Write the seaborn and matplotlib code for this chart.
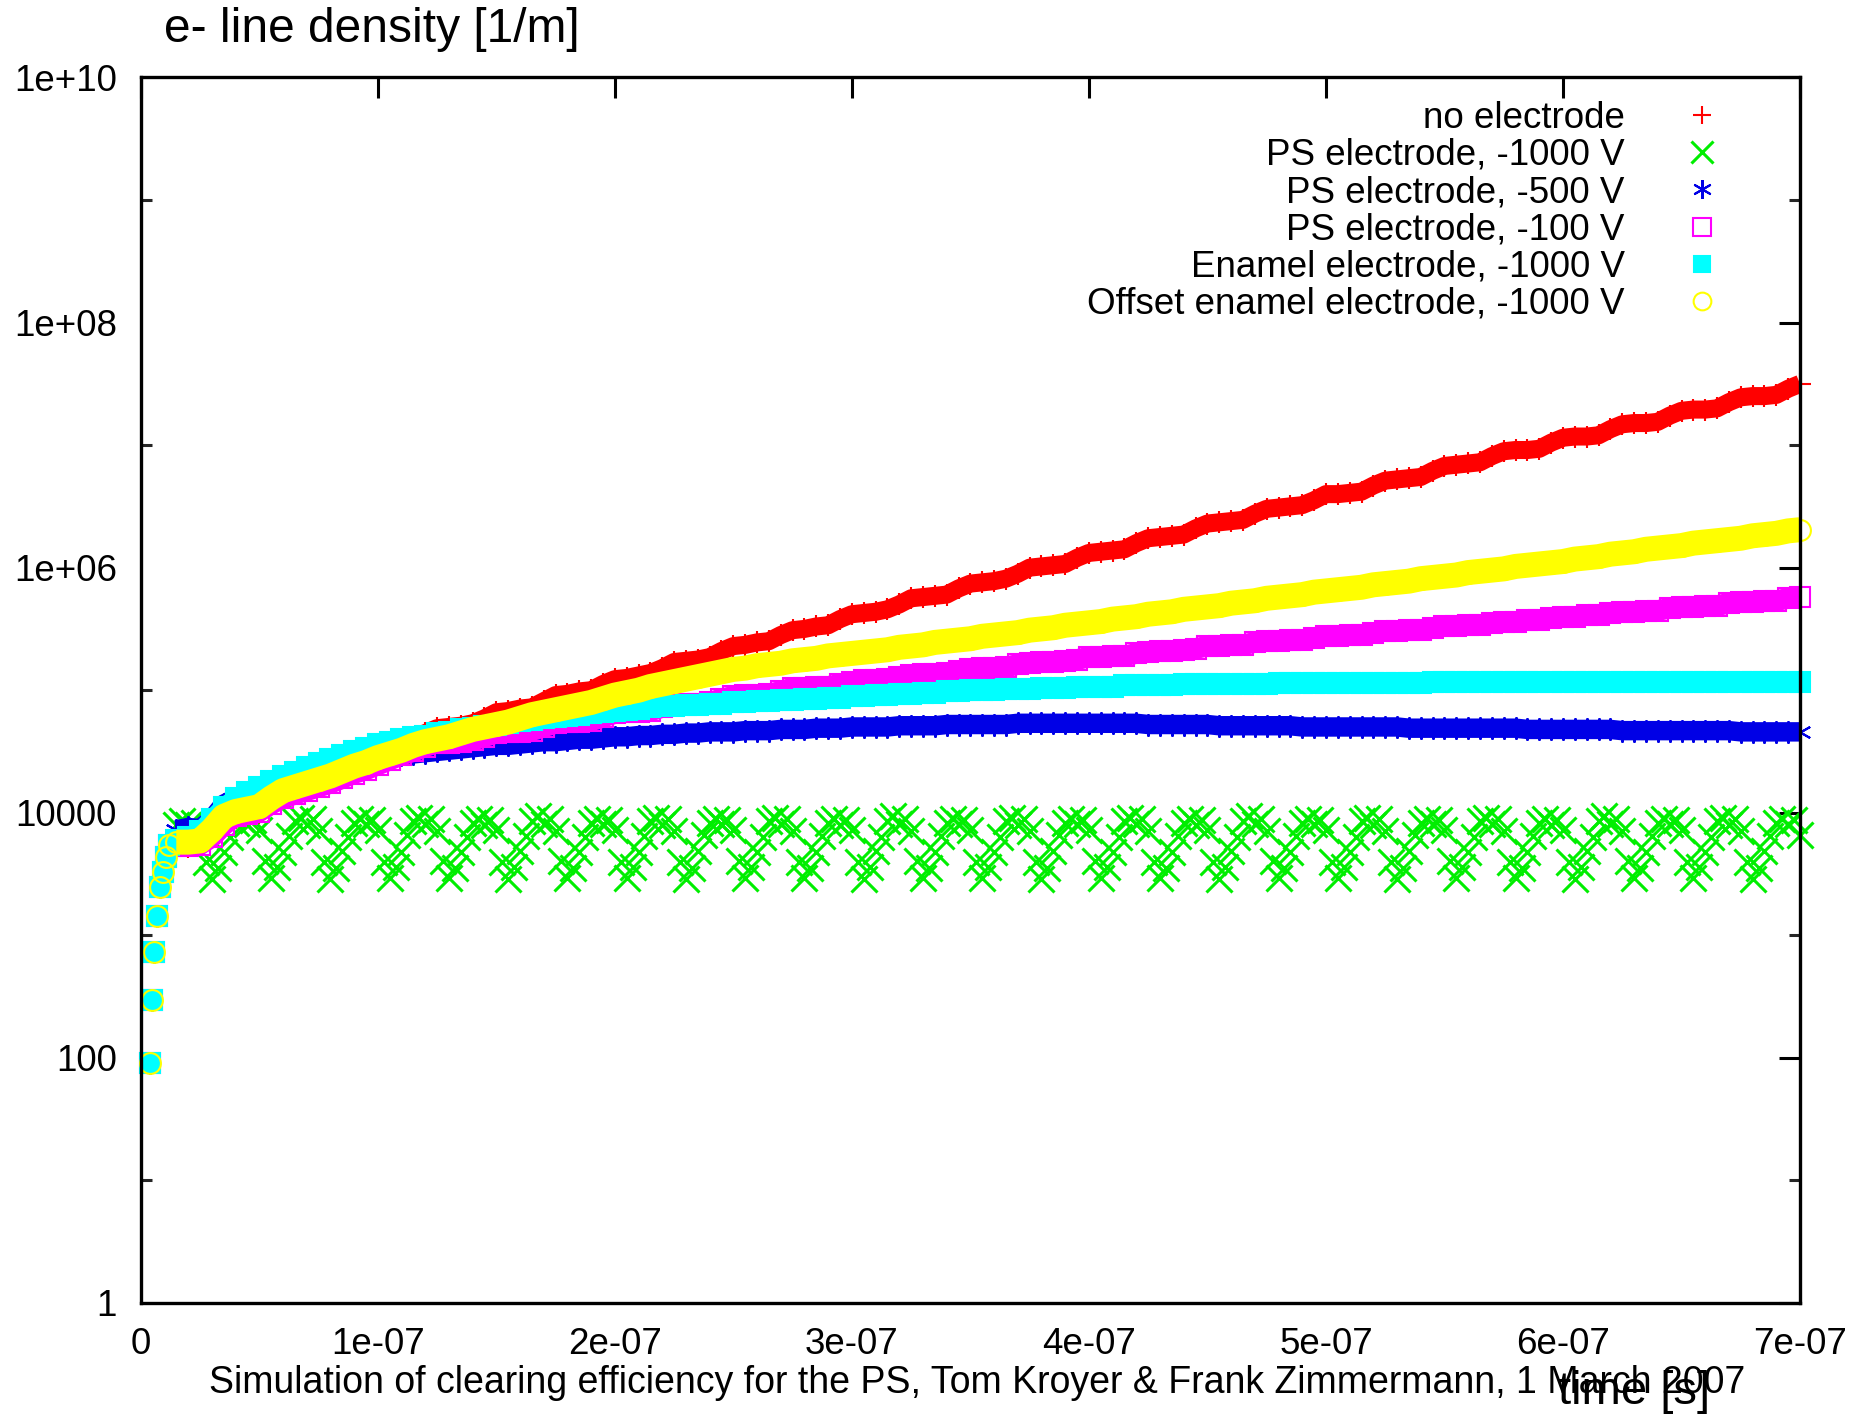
import numpy as np
import pandas as pd
import matplotlib
matplotlib.use("Agg")
import matplotlib.pyplot as plt
import seaborn as sns
from matplotlib.ticker import FixedLocator, NullFormatter

# time grid of the read-off points [ns]
t_ns = list(range(15, 705, 5))
# finer grid for the oscillating -1000 V PS electrode run [ns]
t_fine_ns = [15 + 2.5 * i for i in range(275)]

# first few points of the build-up (visible as enamel / offset enamel marks) [ns], log10 density
t_rise_ns = [3.9, 4.6, 5.6, 7.0, 8.1, 9.3, 10.6, 12.0]
lg_rise = [1.96, 2.47, 2.86, 3.16, 3.39, 3.52, 3.64, 3.74]

lg_no_electrode = [
    3.72, 3.72, 3.73, 3.80, 3.90, 3.96, 3.98, 4.00, 4.06, 4.12,
    4.16, 4.19, 4.22, 4.25, 4.29, 4.33, 4.36, 4.42, 4.46, 4.52,
    4.60, 4.65, 4.69, 4.70, 4.71, 4.73, 4.77, 4.82, 4.83, 4.85,
    4.86, 4.91, 4.96, 4.97, 4.99, 5.00, 5.05, 5.09, 5.10, 5.12,
    5.14, 5.18, 5.23, 5.24, 5.25, 5.27, 5.32, 5.36, 5.37, 5.39,
    5.40, 5.45, 5.49, 5.50, 5.52, 5.53, 5.58, 5.62, 5.63, 5.64,
    5.66, 5.70, 5.75, 5.76, 5.77, 5.78, 5.83, 5.87, 5.88, 5.89,
    5.91, 5.95, 6.00, 6.01, 6.02, 6.03, 6.08, 6.12, 6.13, 6.14,
    6.15, 6.20, 6.24, 6.25, 6.26, 6.27, 6.32, 6.36, 6.37, 6.38,
    6.39, 6.44, 6.48, 6.49, 6.50, 6.51, 6.55, 6.60, 6.60, 6.61,
    6.62, 6.67, 6.71, 6.72, 6.73, 6.74, 6.79, 6.83, 6.84, 6.85,
    6.86, 6.91, 6.95, 6.96, 6.96, 6.97, 7.02, 7.06, 7.07, 7.07,
    7.08, 7.13, 7.17, 7.18, 7.18, 7.19, 7.24, 7.28, 7.29, 7.29,
    7.30, 7.35, 7.39, 7.40, 7.40, 7.41, 7.46, 7.50]

# on t_fine_ns, one row per 25 ns bunch period
lg_ps_1000 = [
    3.90, 3.93, 3.90, 3.92, 3.84, 3.60, 3.46, 3.55, 3.68, 3.80,
    3.92, 3.95, 3.91, 3.94, 3.86, 3.61, 3.47, 3.56, 3.68, 3.81,
    3.93, 3.96, 3.90, 3.95, 3.85, 3.60, 3.46, 3.55, 3.69, 3.80,
    3.92, 3.95, 3.91, 3.94, 3.86, 3.60, 3.47, 3.56, 3.68, 3.82,
    3.93, 3.96, 3.91, 3.95, 3.85, 3.61, 3.47, 3.55, 3.68, 3.80,
    3.92, 3.95, 3.90, 3.94, 3.86, 3.60, 3.46, 3.56, 3.69, 3.81,
    3.93, 3.97, 3.91, 3.95, 3.85, 3.61, 3.47, 3.55, 3.68, 3.80,
    3.92, 3.95, 3.91, 3.94, 3.86, 3.60, 3.47, 3.56, 3.68, 3.81,
    3.93, 3.96, 3.90, 3.95, 3.85, 3.60, 3.46, 3.55, 3.69, 3.82,
    3.92, 3.95, 3.91, 3.94, 3.86, 3.61, 3.47, 3.56, 3.68, 3.80,
    3.93, 3.96, 3.91, 3.95, 3.85, 3.60, 3.47, 3.55, 3.68, 3.81,
    3.92, 3.95, 3.90, 3.94, 3.86, 3.60, 3.46, 3.56, 3.69, 3.80,
    3.93, 3.97, 3.91, 3.95, 3.85, 3.61, 3.47, 3.55, 3.68, 3.81,
    3.92, 3.95, 3.91, 3.94, 3.86, 3.60, 3.47, 3.56, 3.68, 3.80,
    3.93, 3.96, 3.90, 3.95, 3.85, 3.60, 3.46, 3.55, 3.69, 3.82,
    3.92, 3.95, 3.91, 3.94, 3.86, 3.61, 3.47, 3.56, 3.68, 3.80,
    3.93, 3.96, 3.91, 3.95, 3.85, 3.60, 3.47, 3.55, 3.68, 3.81,
    3.92, 3.95, 3.90, 3.94, 3.86, 3.60, 3.46, 3.56, 3.69, 3.80,
    3.93, 3.97, 3.91, 3.95, 3.85, 3.61, 3.47, 3.55, 3.68, 3.81,
    3.92, 3.95, 3.91, 3.94, 3.86, 3.60, 3.47, 3.56, 3.68, 3.80,
    3.93, 3.96, 3.90, 3.95, 3.85, 3.60, 3.46, 3.55, 3.69, 3.82,
    3.92, 3.95, 3.91, 3.94, 3.86, 3.61, 3.47, 3.56, 3.68, 3.80,
    3.93, 3.96, 3.91, 3.95, 3.85, 3.60, 3.47, 3.55, 3.68, 3.81,
    3.92, 3.95, 3.90, 3.94, 3.86, 3.60, 3.46, 3.56, 3.69, 3.80,
    3.93, 3.97, 3.91, 3.95, 3.85, 3.61, 3.47, 3.55, 3.68, 3.81,
    3.92, 3.95, 3.91, 3.94, 3.86, 3.60, 3.47, 3.56, 3.68, 3.80,
    3.93, 3.96, 3.90, 3.95, 3.85, 3.60, 3.46, 3.55, 3.69, 3.81,
    3.92, 3.95, 3.91, 3.94, 3.82]

lg_ps_500 = [
    3.86, 3.88, 3.87, 3.95, 4.07, 4.12, 4.15, 4.17, 4.20, 4.23,
    4.28, 4.32, 4.35, 4.38, 4.40, 4.42, 4.44, 4.45, 4.46, 4.47,
    4.48, 4.49, 4.50, 4.51, 4.52, 4.53, 4.54, 4.55, 4.55, 4.56,
    4.57, 4.58, 4.58, 4.59, 4.60, 4.60, 4.61, 4.62, 4.62, 4.63,
    4.63, 4.64, 4.64, 4.65, 4.65, 4.66, 4.66, 4.66, 4.67, 4.67,
    4.67, 4.68, 4.68, 4.68, 4.69, 4.69, 4.69, 4.70, 4.70, 4.70,
    4.70, 4.71, 4.71, 4.71, 4.71, 4.72, 4.72, 4.72, 4.72, 4.72,
    4.72, 4.73, 4.73, 4.73, 4.73, 4.73, 4.73, 4.73, 4.73, 4.73,
    4.73, 4.73, 4.72, 4.72, 4.72, 4.72, 4.72, 4.72, 4.71, 4.71,
    4.71, 4.71, 4.71, 4.71, 4.71, 4.70, 4.70, 4.70, 4.70, 4.70,
    4.70, 4.70, 4.70, 4.70, 4.69, 4.69, 4.69, 4.69, 4.69, 4.69,
    4.69, 4.69, 4.69, 4.69, 4.68, 4.68, 4.68, 4.68, 4.68, 4.68,
    4.68, 4.68, 4.67, 4.67, 4.67, 4.67, 4.67, 4.67, 4.67, 4.67,
    4.67, 4.67, 4.66, 4.66, 4.66, 4.66, 4.66, 4.66]

lg_ps_100 = [
    3.73, 3.73, 3.74, 3.80, 3.90, 3.97, 3.99, 4.01, 4.07, 4.12,
    4.15, 4.18, 4.21, 4.24, 4.28, 4.32, 4.35, 4.39, 4.43, 4.47,
    4.50, 4.54, 4.57, 4.57, 4.58, 4.59, 4.62, 4.65, 4.66, 4.66,
    4.67, 4.70, 4.73, 4.74, 4.74, 4.75, 4.78, 4.81, 4.82, 4.82,
    4.83, 4.86, 4.88, 4.89, 4.89, 4.90, 4.93, 4.95, 4.96, 4.96,
    4.97, 4.99, 5.02, 5.02, 5.03, 5.03, 5.05, 5.07, 5.08, 5.08,
    5.09, 5.11, 5.12, 5.13, 5.13, 5.14, 5.16, 5.17, 5.18, 5.18,
    5.19, 5.21, 5.22, 5.23, 5.23, 5.24, 5.25, 5.27, 5.27, 5.28,
    5.28, 5.30, 5.31, 5.32, 5.32, 5.33, 5.34, 5.36, 5.36, 5.37,
    5.37, 5.39, 5.40, 5.40, 5.41, 5.41, 5.43, 5.44, 5.44, 5.45,
    5.45, 5.47, 5.48, 5.48, 5.49, 5.49, 5.51, 5.52, 5.52, 5.53,
    5.53, 5.55, 5.56, 5.56, 5.57, 5.57, 5.59, 5.60, 5.60, 5.61,
    5.61, 5.63, 5.64, 5.64, 5.65, 5.65, 5.67, 5.68, 5.68, 5.69,
    5.69, 5.71, 5.72, 5.72, 5.73, 5.73, 5.75, 5.76]

lg_enamel = [
    3.78, 3.80, 3.85, 3.95, 4.05, 4.12, 4.17, 4.21, 4.26, 4.30,
    4.33, 4.37, 4.41, 4.44, 4.47, 4.50, 4.53, 4.56, 4.58, 4.60,
    4.62, 4.63, 4.65, 4.66, 4.68, 4.69, 4.71, 4.72, 4.73, 4.75,
    4.76, 4.77, 4.78, 4.79, 4.80, 4.81, 4.82, 4.83, 4.84, 4.85,
    4.86, 4.87, 4.87, 4.88, 4.88, 4.89, 4.89, 4.90, 4.90, 4.91,
    4.91, 4.92, 4.92, 4.93, 4.93, 4.94, 4.94, 4.95, 4.95, 4.96,
    4.96, 4.97, 4.97, 4.98, 4.98, 4.99, 4.99, 5.00, 5.00, 5.00,
    5.01, 5.01, 5.01, 5.02, 5.02, 5.02, 5.03, 5.03, 5.03, 5.03,
    5.04, 5.04, 5.04, 5.04, 5.04, 5.05, 5.05, 5.05, 5.05, 5.05,
    5.05, 5.05, 5.05, 5.06, 5.06, 5.06, 5.06, 5.06, 5.06, 5.06,
    5.06, 5.06, 5.06, 5.06, 5.06, 5.06, 5.07, 5.07, 5.07, 5.07,
    5.07, 5.07, 5.07, 5.07, 5.07, 5.07, 5.07, 5.07, 5.07, 5.07,
    5.07, 5.07, 5.07, 5.07, 5.07, 5.07, 5.07, 5.07, 5.07, 5.07,
    5.07, 5.07, 5.07, 5.07, 5.07, 5.07, 5.07, 5.07]

lg_offset_enamel = [
    3.76, 3.76, 3.77, 3.86, 3.97, 4.01, 4.03, 4.05, 4.12, 4.18,
    4.21, 4.24, 4.27, 4.30, 4.34, 4.38, 4.41, 4.45, 4.48, 4.51,
    4.55, 4.58, 4.60, 4.62, 4.65, 4.68, 4.70, 4.72, 4.74, 4.77,
    4.80, 4.82, 4.84, 4.86, 4.88, 4.90, 4.93, 4.96, 4.98, 5.00,
    5.03, 5.05, 5.07, 5.09, 5.11, 5.13, 5.15, 5.17, 5.18, 5.20,
    5.21, 5.22, 5.24, 5.25, 5.26, 5.28, 5.29, 5.30, 5.31, 5.32,
    5.33, 5.35, 5.36, 5.37, 5.39, 5.40, 5.41, 5.42, 5.44, 5.45,
    5.46, 5.47, 5.49, 5.50, 5.51, 5.53, 5.54, 5.55, 5.56, 5.58,
    5.59, 5.60, 5.62, 5.63, 5.64, 5.66, 5.67, 5.68, 5.69, 5.71,
    5.72, 5.73, 5.75, 5.76, 5.77, 5.78, 5.80, 5.81, 5.82, 5.83,
    5.84, 5.86, 5.87, 5.88, 5.89, 5.91, 5.92, 5.93, 5.94, 5.96,
    5.97, 5.98, 5.99, 6.01, 6.02, 6.03, 6.04, 6.05, 6.07, 6.08,
    6.09, 6.11, 6.12, 6.13, 6.15, 6.16, 6.17, 6.18, 6.20, 6.21,
    6.22, 6.23, 6.24, 6.26, 6.27, 6.28, 6.30, 6.31]

labels = ["no electrode", "PS electrode, -1000 V", "PS electrode, -500 V",
          "PS electrode, -100 V", "Enamel electrode, -1000 V",
          "Offset enamel electrode, -1000 V"]
x_ticks = [0, 1e-7, 2e-7, 3e-7, 4e-7, 5e-7, 6e-7, 7e-7]
x_ticklabels = ["0", "1e-07", "2e-07", "3e-07", "4e-07", "5e-07", "6e-07", "7e-07"]
y_ticks = [1, 1e2, 1e4, 1e6, 1e8, 1e10]
y_ticklabels = ["1", "100", "10000", "1e+06", "1e+08", "1e+10"]
y_minor = [10, 1e3, 1e5, 1e7, 1e9]

sns.set_theme(style="white")
plt.rcParams['font.family'] = ['Liberation Sans', 'DejaVu Sans']
plt.rcParams['text.color'] = 'black'

fig = plt.figure(figsize=(18.69, 14.19), dpi=100)
ax = fig.add_axes([0.0753, 0.0818, 0.8878, 0.8636])
ax.set_yscale("log")

# (series, time grid, colour, marker, marker size, edge width, hollow, band width, with rise)
styles = [
    (lg_no_electrode, t_ns, "#ff0000", "+", 16, 1.5, False, 13, True),
    (lg_ps_1000, t_fine_ns, "#00ee00", "x", 19, 2.2, False, 0, False),
    (lg_ps_500, t_ns, "#0000e6", (6, 2, 0), 16, 1.5, False, 14, True),
    (lg_ps_100, t_ns, "#ff00ff", "s", 15, 1.5, True, 15, True),
    (lg_enamel, t_ns, "#00ffff", "s", 14, 1.5, False, 13, True),
    (lg_offset_enamel, t_ns, "#ffff00", "o", 15, 1.5, True, 18, True),
]

z = 2
for (lg, tg, col, mk, ms, ew, hollow, band, rise), lab in zip(styles, labels):
    main = pd.DataFrame({"t": np.array(tg) * 1e-9, "n": 10.0 ** np.array(lg)})
    if rise:
        pts = pd.DataFrame({"t": np.array(t_rise_ns + tg) * 1e-9,
                            "n": 10.0 ** np.array(lg_rise + lg)})
    else:
        pts = main
    if band:
        sns.lineplot(data=main, x="t", y="n", ax=ax, color=col, lw=band,
                     legend=False, zorder=z, solid_capstyle="butt")
    sns.lineplot(data=pts, x="t", y="n", ax=ax, color=col, marker=mk,
                 linestyle="", markersize=ms, mew=ew, mec=col,
                 mfc="none" if hollow else col, label=lab, zorder=z + 0.5,
                 clip_on=False)
    z += 1

ax.set_xlim(0, 7e-7)
ax.set_ylim(1, 1e10)
ax.set_xticks(x_ticks)
ax.set_xticklabels(x_ticklabels)
ax.set_yticks(y_ticks)
ax.set_yticklabels(y_ticklabels)
ax.yaxis.set_minor_locator(FixedLocator(y_minor))
ax.yaxis.set_minor_formatter(NullFormatter())
ax.xaxis.set_minor_locator(FixedLocator([]))
ax.tick_params(which="major", direction="in", length=15, width=2.2,
               top=True, right=True, labelsize=26.5, colors="black")
ax.tick_params(axis="y", which="major", pad=17)
ax.tick_params(axis="x", which="major", pad=17)
ax.tick_params(which="minor", direction="in", length=8, width=2.2,
               left=True, right=True)
ax.set_xlabel("")
ax.set_ylabel("")
for sp in ax.spines.values():
    sp.set_linewidth(2.4)
    sp.set_color("black")
    sp.set_zorder(20)

leg = ax.legend(loc="upper right", bbox_to_anchor=(0.952, 0.981), frameon=False,
                markerfirst=False, fontsize=26.5, handlelength=1.0,
                handletextpad=1.6, labelspacing=0.06, borderaxespad=0,
                borderpad=0, markerscale=0.85)
for txt in leg.get_texts():
    txt.set_color("black")

fig.text(164 / 1869, 1 - 29 / 1419, "e- line density [1/m]", fontsize=34.5,
         ha="left", va="center")
fig.text(977 / 1869, 1 - 1383 / 1419,
         "Simulation of clearing efficiency for the PS, Tom Kroyer & Frank Zimmermann, 1 March 2007",
         fontsize=27, ha="center", va="center")
fig.text(1634 / 1869, 1 - 1392 / 1419, "time [s]", fontsize=34,
         ha="center", va="center")

fig.savefig("out.png", dpi=100)
